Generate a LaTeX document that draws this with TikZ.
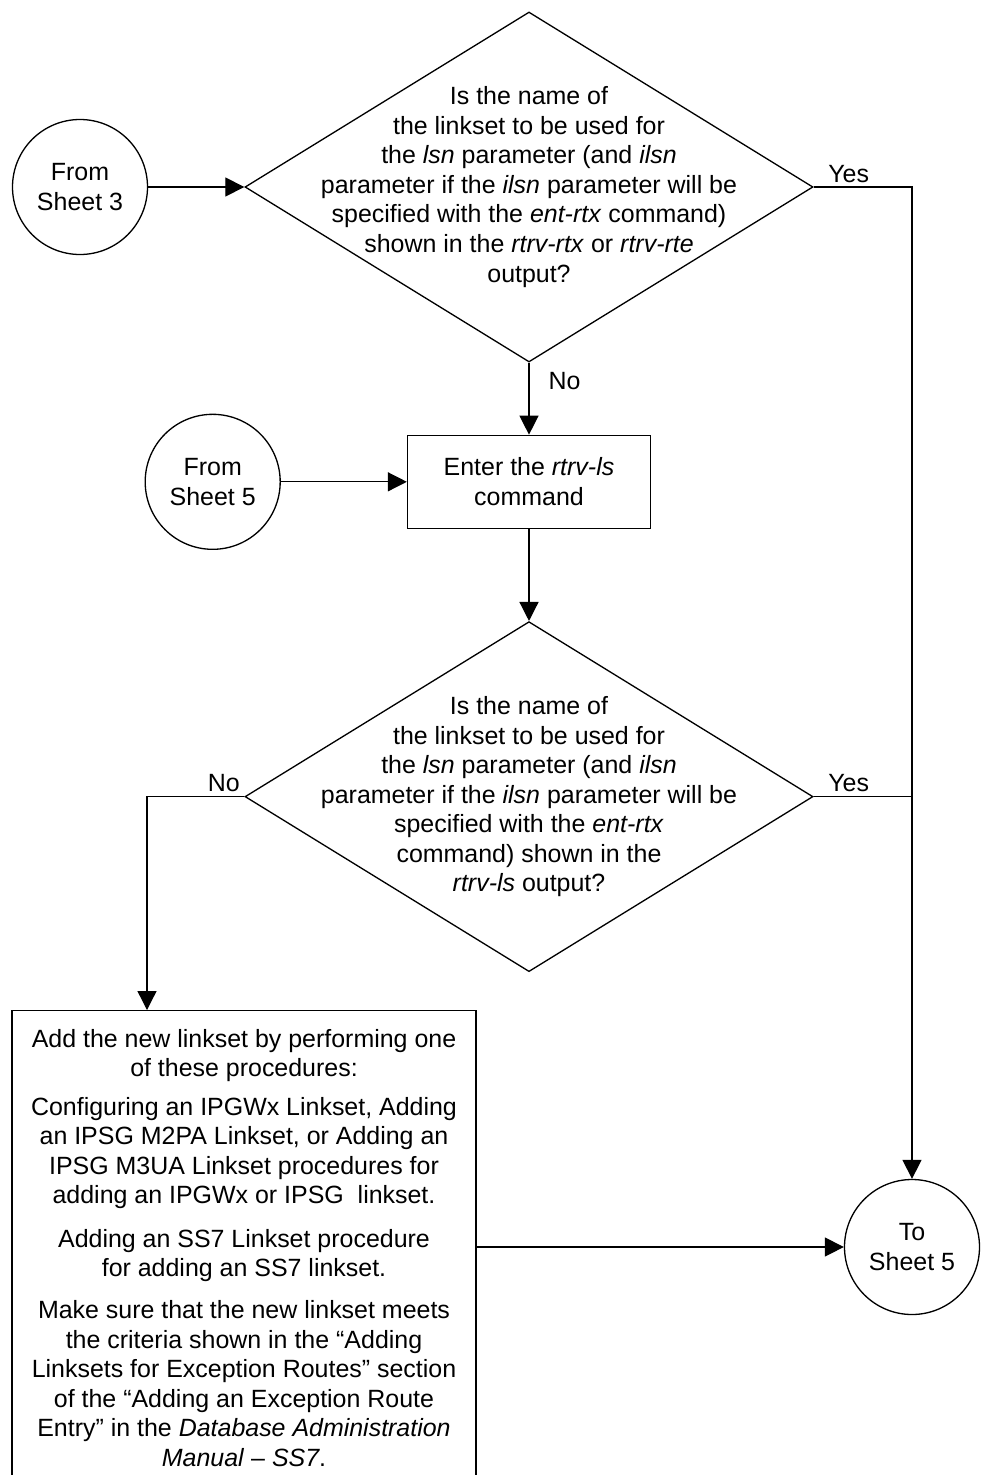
\documentclass[tikz,border=0pt]{standalone}
\usepackage{fontspec}
\setmainfont{Liberation Sans}
\usetikzlibrary{arrows.meta, positioning, shapes.geometric}
\tikzset{
  arrowK/.style={-{Triangle[length=0.38cm, width=0.38cm]}, line width=0.75pt},
  lineK/.style={line width=0.75pt},
  boxStep/.style={rectangle, draw, line width=0.75pt, align=center, inner sep=0pt},
  circleSheet/.style={circle, draw, line width=0.75pt, align=center,
                      minimum size=2.7cm, inner sep=0pt},
  diamondQ/.style={diamond, draw, line width=0.75pt, minimum width=11.36cm,
                   minimum height=7cm, inner sep=0pt},
  txtQ/.style={align=center, inner sep=0pt},
  lblYN/.style={inner sep=1pt},
}

\begin{document}
\begin{tikzpicture}[font=\fontsize{14.2}{16.8}\selectfont]
    \useasboundingbox (0,0) rectangle (19.66,-29.5);
    % first question
    \node[circleSheet] (s3) at (1.6,-3.74) {From\\Sheet 3};
    \node[diamondQ] (q1) at (10.58,-3.74) {};
    \node[txtQ] (q1t) at (q1.center) {Is the name of\\the linkset to be used for\\
      the \textit{lsn} parameter (and \textit{ilsn}\\
      parameter if the \textit{ilsn} parameter will be\\
      specified with the \textit{ent-rtx} command)\\
      shown in the \textit{rtrv-rtx} or \textit{rtrv-rte}\\output?};
    \draw[arrowK] (s3) -- (q1);
    \node[lblYN, above right=0.05cm and 0.25cm of q1.east] (y1) {Yes};
    % rtrv-ls
    \node[boxStep, minimum width=4.86cm, minimum height=1.86cm, below=1.44cm of q1] (ls)
      {Enter the \textit{rtrv-ls}\\command};
    \node[circleSheet, left=2.52cm of ls] (s5) {From\\Sheet 5};
    \draw[arrowK] (q1) -- (ls);
    \node[lblYN, below right=0.15cm and 0.35cm of q1.south] (n1) {No};
    \draw[arrowK] (s5) -- (ls);
    % second question
    \node[diamondQ, below=1.84cm of ls] (q2) {};
    \node[txtQ] (q2t) at (q2.center) {Is the name of\\the linkset to be used for\\
      the \textit{lsn} parameter (and \textit{ilsn}\\
      parameter if the \textit{ilsn} parameter will be\\
      specified with the \textit{ent-rtx}\\command) shown in the\\
      \textit{rtrv-ls} output?};
    \draw[arrowK] (ls) -- (q2);
    \node[lblYN, above right=0.05cm and 0.25cm of q2.east] (y2) {Yes};
    \node[lblYN, above left=0.05cm and 0.05cm of q2.west] (n2) {No};
    % add linkset
    \node[boxStep, anchor=north, minimum width=9.28cm, minimum height=9.9cm] (add) at (4.88,-20.2) {};
    \node[txtQ, anchor=north] (addt) at ([yshift=-0.38cm]add.north)
      {Add the new linkset by performing one\\of these procedures:\\[5pt]
       Configuring an IPGWx Linkset, Adding\\an IPSG M2PA Linkset, or Adding an\\
       IPSG M3UA Linkset procedures for\\adding an IPGWx or IPSG\ \ linkset.\\[8pt]
       Adding an SS7 Linkset procedure\\for adding an SS7 linkset.\\[7pt]
       Make sure that the new linkset meets\\the criteria shown in the “Adding\\
       Linksets for Exception Routes” section\\of the “Adding an Exception Route\\
       Entry” in the \textit{Database Administration}\\\textit{Manual} – \textit{SS7}.};
    \coordinate (nb) at (2.94,-20);
    \draw[arrowK] (q2.west) -| (nb |- add.north);
    % to sheet 5
    \node[circleSheet] (t5) at (18.24,-24.94) {To\\Sheet 5};
    \draw[arrowK] (q1.east) -| (t5.north);
    \draw[lineK] (q2.east) -- (q2.east -| t5.north);
    \draw[arrowK] (add.east |- t5.west) -- (t5.west);
\end{tikzpicture}
\end{document}
